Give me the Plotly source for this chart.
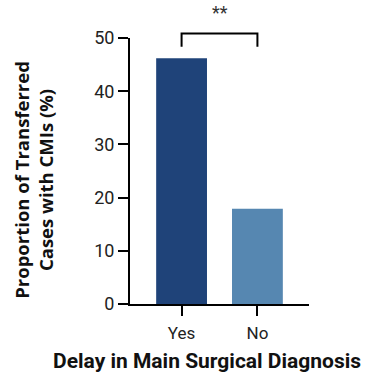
import plotly.graph_objects as go

categories = ["Yes", "No"]
values = [46.2, 17.9]
bar_colors = ["#1F4379", "#5687B1"]
y_ticks = [0, 10, 20, 30, 40, 50]

fig = go.Figure()
fig.add_trace(go.Bar(
    x=categories, y=values, marker=dict(color=bar_colors, line=dict(width=0)),
    width=0.67, showlegend=False, hoverinfo="skip"))

fig.update_layout(
    width=369, height=378,
    margin=dict(l=130, r=60, t=38, b=74),
    plot_bgcolor="white", paper_bgcolor="white",
    font=dict(family="Roboto", color="#333333", size=16),
    xaxis=dict(range=[-0.68, 1.68], showline=True, linecolor="black", linewidth=2,
               ticks="outside", ticklen=10, tickwidth=2, tickcolor="black",
               ticklabelstandoff=3,
               tickfont=dict(size=17, family="Roboto", color="#222222"), showgrid=False,
               zeroline=False),
    yaxis=dict(range=[0, 50], tickvals=y_ticks, showline=True, linecolor="black", linewidth=2,
               ticks="outside", ticklen=10, tickwidth=2, tickcolor="black",
               tickfont=dict(size=18, family="Roboto", color="#222222"), showgrid=False,
               zeroline=False),
)

# significance bracket
fig.add_shape(type="path", xref="x", yref="paper",
              path="M 0,0.967 L 0,1.017 L 1,1.017 L 1,0.967",
              line=dict(color="black", width=2))
fig.add_annotation(x=0.5, xref="x", y=1.095, yref="paper", text="**", showarrow=False,
                   xanchor="center", yanchor="middle",
                   font=dict(size=18, family="Roboto", color="#333333"))

# axis titles
fig.add_annotation(x=-0.536, xref="paper", y=0.467, yref="paper",
                   text="<b>Proportion of Transferred<br>Cases with CMIs (%)</b>",
                   textangle=-90, showarrow=False, xanchor="center", yanchor="middle",
                   font=dict(size=18.5, family="Open Sans", color="#111111"))
fig.add_annotation(x=0.43, xref="paper", y=-0.215, yref="paper",
                   xanchor="center", yanchor="middle",
                   text="<b>Delay in Main Surgical Diagnosis</b>", showarrow=False,
                   font=dict(size=21, family="Roboto", color="#111111"))

fig.write_html("out.html")
